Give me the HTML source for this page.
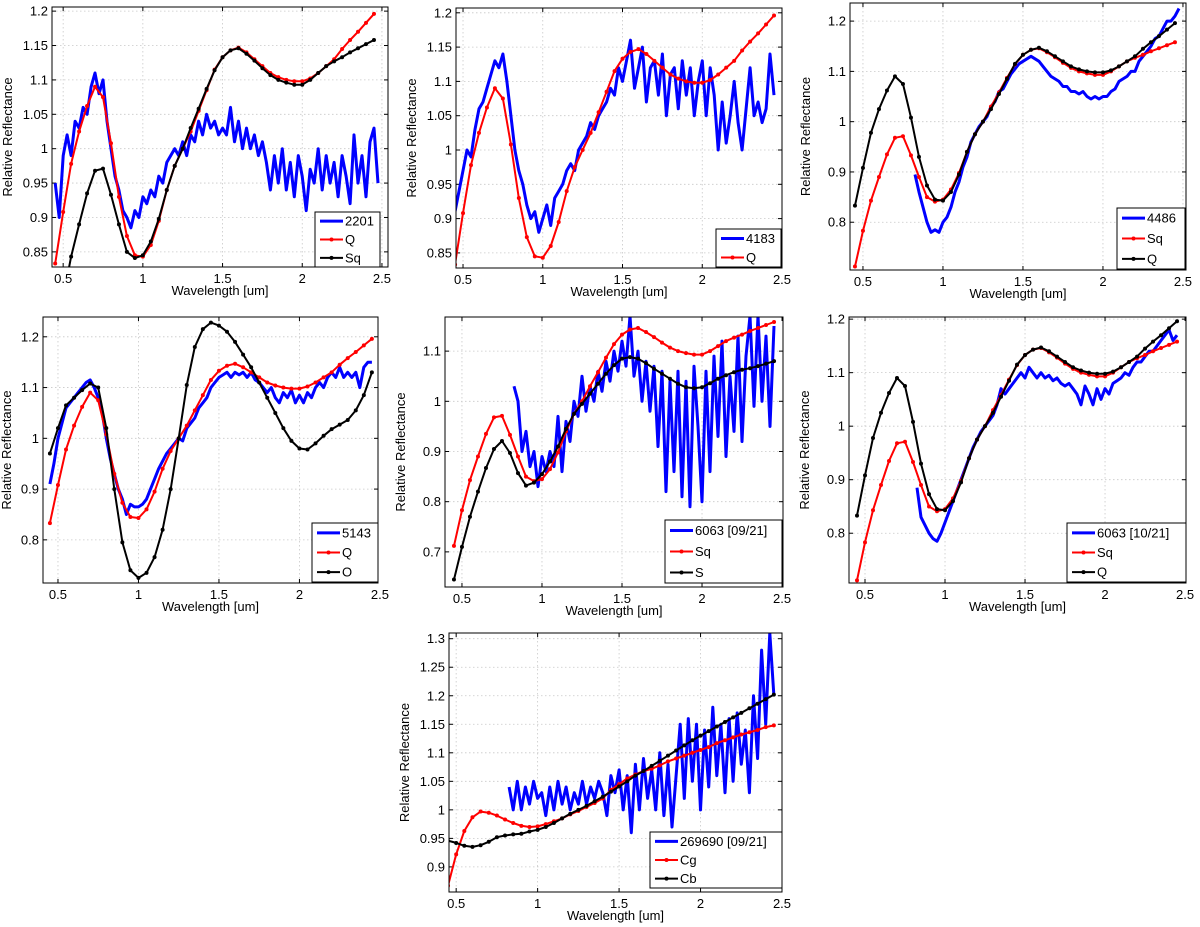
<!DOCTYPE html>
<html><head><meta charset="utf-8"><style>
html,body{margin:0;padding:0;background:#fff;}
svg{display:block;font-family:"Liberation Sans",sans-serif;}
</style></head><body>
<svg id="fig" width="1200" height="927" viewBox="0 0 1200 927" xmlns="http://www.w3.org/2000/svg"></svg>
<script>
// Model wavelength grid values (um)
const modelWl = [0.45,0.5,0.55,0.6,0.65,0.7,0.75,0.8,0.85,0.9,0.95,1.0,1.05,1.1,1.15,1.2,1.25,1.3,1.35,1.4,1.45,1.5,1.55,1.6,1.65,1.7,1.75,1.8,1.85,1.9,1.95,2.0,2.05,2.1,2.15,2.2,2.25,2.3,2.35,2.4,2.45];
const modelQ = [0.833,0.908,0.978,1.025,1.062,1.09,1.075,1.008,0.93,0.873,0.845,0.843,0.86,0.895,0.94,0.975,1.0,1.025,1.055,1.085,1.115,1.133,1.143,1.147,1.14,1.13,1.12,1.11,1.104,1.1,1.098,1.098,1.102,1.11,1.12,1.13,1.145,1.158,1.17,1.183,1.196];
const modelSq = [0.712,0.783,0.843,0.89,0.935,0.968,0.971,0.933,0.89,0.85,0.841,0.845,0.865,0.898,0.94,0.975,1.0,1.03,1.058,1.087,1.114,1.133,1.143,1.146,1.138,1.128,1.117,1.107,1.1,1.096,1.093,1.093,1.1,1.11,1.12,1.127,1.133,1.14,1.146,1.152,1.158];
const modelS = [0.645,0.71,0.77,0.82,0.867,0.905,0.921,0.897,0.857,0.832,0.838,0.855,0.88,0.91,0.945,0.975,0.995,1.015,1.035,1.055,1.072,1.085,1.088,1.085,1.076,1.065,1.055,1.045,1.035,1.028,1.026,1.028,1.036,1.045,1.052,1.058,1.063,1.066,1.07,1.075,1.08];
const modelO = [0.97,1.02,1.065,1.08,1.095,1.108,1.1,1.02,0.9,0.795,0.74,0.725,0.735,0.766,0.82,0.9,1.0,1.105,1.18,1.215,1.228,1.222,1.21,1.19,1.165,1.14,1.11,1.08,1.05,1.02,0.995,0.98,0.978,0.99,1.005,1.018,1.027,1.036,1.055,1.085,1.13];
const modelCg = [0.867,0.922,0.963,0.987,0.997,0.995,0.99,0.983,0.977,0.972,0.97,0.971,0.975,0.98,0.985,0.992,0.998,1.005,1.012,1.02,1.035,1.045,1.055,1.062,1.068,1.072,1.078,1.085,1.09,1.095,1.1,1.105,1.11,1.117,1.122,1.127,1.132,1.136,1.14,1.145,1.148];
const modelCb = [0.946,0.942,0.937,0.935,0.938,0.944,0.952,0.955,0.957,0.958,0.962,0.965,0.97,0.977,0.985,0.993,1.0,1.007,1.015,1.023,1.032,1.041,1.05,1.06,1.068,1.077,1.086,1.095,1.104,1.113,1.122,1.13,1.138,1.146,1.154,1.162,1.17,1.178,1.186,1.194,1.202];

// Observed spectra: start wavelength, step 0.025 um
const obsStep = 0.025;
const obs2201Start = 0.45;
const obs2201 = [0.95,0.9,0.99,1.02,0.99,1.04,1.03,1.06,1.05,1.09,1.11,1.08,1.1,1.04,1.0,0.96,0.94,0.91,0.9,0.885,0.91,0.9,0.93,0.92,0.94,0.93,0.96,0.95,0.98,0.99,1.0,0.99,1.01,0.99,1.02,1.01,1.04,1.02,1.05,1.03,1.04,1.02,1.03,1.02,1.06,1.01,1.04,1.0,1.03,1.0,1.02,0.99,1.01,0.98,0.94,0.99,0.95,1.0,0.94,0.98,0.93,0.99,0.96,0.91,0.97,0.95,1.0,0.94,0.99,0.95,0.98,0.93,0.99,0.96,0.92,1.02,0.95,0.99,0.93,1.01,1.03,0.95];
const obs4183Start = 0.45;
const obs4183 = [0.91,0.94,0.97,1.0,0.99,1.03,1.06,1.07,1.09,1.11,1.13,1.12,1.14,1.1,1.05,1.0,0.97,0.95,0.92,0.9,0.91,0.88,0.9,0.92,0.89,0.93,0.94,0.95,0.97,0.98,0.97,1.0,1.01,1.02,1.04,1.03,1.05,1.06,1.07,1.09,1.08,1.12,1.1,1.13,1.16,1.09,1.12,1.15,1.07,1.12,1.13,1.08,1.14,1.05,1.11,1.12,1.06,1.13,1.08,1.12,1.05,1.1,1.13,1.05,1.12,1.08,1.0,1.07,1.01,1.05,1.1,1.04,1.0,1.06,1.12,1.05,1.07,1.04,1.06,1.14,1.08];
const obs4486Start = 0.825;
const obs4486 = [0.895,0.86,0.83,0.8,0.78,0.785,0.78,0.8,0.81,0.83,0.86,0.88,0.91,0.93,0.96,0.975,0.99,1.0,1.01,1.03,1.04,1.06,1.065,1.08,1.095,1.105,1.115,1.12,1.125,1.13,1.125,1.12,1.11,1.1,1.09,1.085,1.08,1.07,1.07,1.06,1.06,1.055,1.06,1.05,1.045,1.05,1.045,1.05,1.05,1.06,1.065,1.08,1.085,1.09,1.1,1.1,1.12,1.13,1.14,1.15,1.165,1.17,1.185,1.2,1.2,1.21,1.225];
const obs5143Start = 0.45;
const obs5143 = [0.91,0.95,1.0,1.03,1.06,1.07,1.08,1.09,1.1,1.11,1.115,1.1,1.08,1.05,1.0,0.96,0.93,0.9,0.88,0.85,0.87,0.865,0.865,0.87,0.88,0.9,0.92,0.94,0.955,0.97,0.98,0.99,1.0,0.995,1.02,1.03,1.04,1.06,1.07,1.08,1.1,1.11,1.12,1.125,1.13,1.12,1.13,1.125,1.13,1.12,1.13,1.115,1.11,1.1,1.09,1.1,1.08,1.07,1.09,1.08,1.095,1.07,1.085,1.07,1.09,1.08,1.1,1.11,1.1,1.12,1.13,1.12,1.14,1.12,1.13,1.12,1.13,1.1,1.14,1.15,1.15];
const obs6063aStart = 0.825;
const obs6063a = [1.03,1.0,0.9,0.94,0.87,0.9,0.83,0.89,0.86,0.9,0.87,0.97,0.86,0.96,0.92,1.0,0.97,1.05,0.98,1.03,1.0,1.06,1.02,1.08,1.04,1.1,1.06,1.12,1.07,1.17,1.05,1.1,1.0,1.08,0.98,1.07,0.91,1.06,0.82,1.04,0.86,1.06,0.81,1.04,0.79,1.07,0.95,0.8,1.06,0.86,1.09,0.93,1.12,0.89,1.05,0.94,1.13,0.92,1.09,1.17,0.99,1.17,1.0,1.13,0.95,1.15];
const obs6063bStart = 0.825;
const obs6063b = [0.885,0.83,0.815,0.8,0.79,0.785,0.8,0.82,0.84,0.86,0.88,0.9,0.92,0.94,0.96,0.975,0.99,1.0,1.01,1.02,1.04,1.07,1.06,1.07,1.08,1.09,1.1,1.09,1.11,1.1,1.09,1.1,1.09,1.095,1.085,1.09,1.08,1.075,1.08,1.07,1.06,1.04,1.075,1.06,1.04,1.07,1.05,1.07,1.06,1.08,1.085,1.09,1.1,1.095,1.11,1.12,1.12,1.13,1.14,1.14,1.15,1.16,1.17,1.18,1.16,1.17];
const obs269690Start = 0.825;
const obs269690 = [1.04,1.0,1.05,1.0,1.04,1.01,1.05,1.02,1.03,0.99,1.04,1.0,1.05,1.01,1.04,1.0,1.03,1.01,1.05,1.01,1.04,1.02,1.05,1.03,0.99,1.06,1.03,1.07,1.0,1.06,0.96,1.08,1.0,1.09,1.02,1.07,1.0,1.1,0.99,1.08,0.97,1.06,1.15,1.02,1.16,1.05,1.15,1.0,1.14,1.04,1.18,1.06,1.15,1.03,1.16,1.05,1.17,1.08,1.14,1.03,1.2,1.09,1.28,1.15,1.31,1.2];

const NS = 'http://www.w3.org/2000/svg';
const svg = document.getElementById('fig');
function mk(tag, attrs, parent){
  const e = document.createElementNS(NS, tag);
  for (const k in attrs) e.setAttribute(k, attrs[k]);
  (parent||svg).appendChild(e);
  return e;
}
function obsSeries(start, vals){
  const xs = [];
  for (let i=0;i<vals.length;i++) xs.push(+(start + i*obsStep).toFixed(4));
  return xs;
}
function fmt(v){ return String(+v.toFixed(2)); }

const panels = [
 {id:'2201', box:[52,7,388,267], xr:[0.43,2.538], yr:[0.828,1.206], yt:[0.85,0.9,0.95,1,1.05,1.1,1.15,1.2],
  series:[{name:'2201',kind:'obs',x:obsSeries(obs2201Start,obs2201),y:obs2201,color:'#0000ff'},
          {name:'Q',kind:'model',x:modelWl,y:modelQ,color:'#ff0000'},
          {name:'Sq',kind:'model',x:modelWl,y:modelSq,color:'#000000'}],
  leg:[315,212,380,267]},
 {id:'4183', box:[456,8,782,268], xr:[0.456,2.5], yr:[0.828,1.207], yt:[0.85,0.9,0.95,1,1.05,1.1,1.15,1.2],
  series:[{name:'4183',kind:'obs',x:obsSeries(obs4183Start,obs4183),y:obs4183,color:'#0000ff'},
          {name:'Q',kind:'model',x:modelWl,y:modelQ,color:'#ff0000'}],
  leg:[716,229,781,267]},
 {id:'4486', box:[850,3,1186,270], xr:[0.419,2.519], yr:[0.705,1.236], yt:[0.8,0.9,1,1.1,1.2],
  series:[{name:'4486',kind:'obs',x:obsSeries(obs4486Start,obs4486),y:obs4486,color:'#0000ff'},
          {name:'Sq',kind:'model',x:modelWl,y:modelSq,color:'#ff0000'},
          {name:'Q',kind:'model',x:modelWl,y:modelQ,color:'#000000'}],
  leg:[1117,208,1185,269]},
 {id:'5143', box:[43,317,378,583], xr:[0.407,2.488], yr:[0.715,1.239], yt:[0.8,0.9,1,1.1,1.2],
  series:[{name:'5143',kind:'obs',x:obsSeries(obs5143Start,obs5143),y:obs5143,color:'#0000ff'},
          {name:'Q',kind:'model',x:modelWl,y:modelQ,color:'#ff0000'},
          {name:'O',kind:'model',x:modelWl,y:modelO,color:'#000000'}],
  leg:[312,523,378,582]},
 {id:'6063-0921', box:[445,317,783,587], xr:[0.394,2.506], yr:[0.63,1.168], yt:[0.7,0.8,0.9,1,1.1],
  series:[{name:'6063 [09/21]',kind:'obs',x:obsSeries(obs6063aStart,obs6063a),y:obs6063a,color:'#0000ff'},
          {name:'Sq',kind:'model',x:modelWl,y:modelSq,color:'#ff0000'},
          {name:'S',kind:'model',x:modelWl,y:modelS,color:'#000000'}],
  leg:[665,520,782,583]},
 {id:'6063-1021', box:[849,317,1186,583], xr:[0.4,2.506], yr:[0.707,1.204], yt:[0.8,0.9,1,1.1,1.2],
  series:[{name:'6063 [10/21]',kind:'obs',x:obsSeries(obs6063bStart,obs6063b),y:obs6063b,color:'#0000ff'},
          {name:'Sq',kind:'model',x:modelWl,y:modelSq,color:'#ff0000'},
          {name:'Q',kind:'model',x:modelWl,y:modelQ,color:'#000000'}],
  leg:[1067,523,1186,582]},
 {id:'269690', box:[449,633,782,892], xr:[0.456,2.5], yr:[0.856,1.31], yt:[0.9,0.95,1,1.05,1.1,1.15,1.2,1.25,1.3],
  series:[{name:'269690 [09/21]',kind:'obs',x:obsSeries(obs269690Start,obs269690),y:obs269690,color:'#0000ff'},
          {name:'Cg',kind:'model',x:modelWl,y:modelCg,color:'#ff0000'},
          {name:'Cb',kind:'model',x:modelWl,y:modelCb,color:'#000000'}],
  leg:[650,832,782,888]}
];
const xTicks = [0.5,1,1.5,2,2.5];

panels.forEach((p,pi)=>{
  const [L,T,R,B] = p.box;
  const sx = v => L + (v-p.xr[0])/(p.xr[1]-p.xr[0])*(R-L);
  const sy = v => B - (v-p.yr[0])/(p.yr[1]-p.yr[0])*(B-T);
  const g = mk('g',{});
  
  
  const clipId = 'clip'+pi;
  const cp = mk('clipPath',{id:clipId}, g);
  mk('rect',{x:L,y:T,width:R-L,height:B-T}, cp);
  mk('rect',{x:L,y:T,width:R-L,height:B-T,fill:'#fff'}, g);
  const grid = mk('g',{stroke:'#c8c8c8','stroke-width':0.8,'stroke-dasharray':'1.5,2.5'}, g);
  
  
  xTicks.forEach(t=>{
    const x = sx(t);
    if (x>L+1 && x<R-1) mk('line',{x1:x,y1:T,x2:x,y2:B}, grid);
    if (x>=L-1 && x<=R+10){
      const lab = mk('text',{x:Math.min(x,R+6),y:B+16,'text-anchor':'middle','font-size':13,fill:'#000'}, g);
      lab.textContent = fmt(t);
      
      
      if (x>=L && x<=R){
        mk('line',{x1:x,y1:B,x2:x,y2:B-4,stroke:'#000','stroke-width':1}, g);
        mk('line',{x1:x,y1:T,x2:x,y2:T+4,stroke:'#000','stroke-width':1}, g);
      }
    }
  });
  p.yt.forEach(t=>{
    const y = sy(t);
    if (y>T+1 && y<B-1) mk('line',{x1:L,y1:y,x2:R,y2:y}, grid);
    mk('line',{x1:L,y1:y,x2:L+4,y2:y,stroke:'#000','stroke-width':1}, g);
    mk('line',{x1:R,y1:y,x2:R-4,y2:y,stroke:'#000','stroke-width':1}, g);
    const lab = mk('text',{x:L-4,y:y+4.5,'text-anchor':'end','font-size':13,fill:'#000'}, g);
    lab.textContent = fmt(t);
    
    
  });
  const sg = mk('g',{'clip-path':'url(#'+clipId+')'}, g);
  p.series.forEach(s=>{
    const pts = s.x.map((xv,i)=>sx(xv).toFixed(1)+','+sy(s.y[i]).toFixed(1)).join(' ');
    const pl = mk('polyline',{points:pts,fill:'none',stroke:s.color,'stroke-width':s.kind==='obs'?3:2,'stroke-linejoin':'round'}, sg);
    
    
    if (s.kind==='model'){
      s.x.forEach((xv,i)=>{
        const c = mk('circle',{cx:sx(xv),cy:sy(s.y[i]),r:2,fill:s.color}, sg);
        
        
      });
    }
  });
  const fr = mk('rect',{x:L,y:T,width:R-L,height:B-T,fill:'none',stroke:'#000','stroke-width':1}, g);
  
  
  const xl = mk('text',{x:(L+R)/2,y:B+28,'text-anchor':'middle','font-size':13,fill:'#000'}, g);
  xl.textContent = 'Wavelength [um]';
  
  
  const yc = (T+B)/2, yx = Math.max(L-40, 11);
  const yl = mk('text',{x:yx,y:yc,'text-anchor':'middle','font-size':13,fill:'#000',transform:'rotate(-90 '+yx+' '+yc+')'}, g);
  yl.textContent = 'Relative Reflectance';
  
  
  const [lx1,ly1,lx2,ly2] = p.leg;
  const lg = mk('g',{}, g);
  
  
  mk('rect',{x:lx1,y:ly1,width:lx2-lx1,height:ly2-ly1,fill:'#fff',stroke:'#000','stroke-width':1}, lg);
  const n = p.series.length, rh = (ly2-ly1)/n;
  p.series.forEach((s,i)=>{
    const cy = ly1 + rh*(i+0.5);
    const e = mk('g',{}, lg);
    
    
    mk('line',{x1:lx1+5,y1:cy,x2:lx1+28,y2:cy,stroke:s.color,'stroke-width':s.kind==='obs'?3:2}, e);
    if (s.kind==='model') mk('circle',{cx:lx1+16.5,cy:cy,r:2,fill:s.color}, e);
    const t = mk('text',{x:lx1+30,y:cy+4.5,'font-size':13,fill:'#000'}, e);
    t.textContent = s.name;
  });
});
</script>
</body></html>
